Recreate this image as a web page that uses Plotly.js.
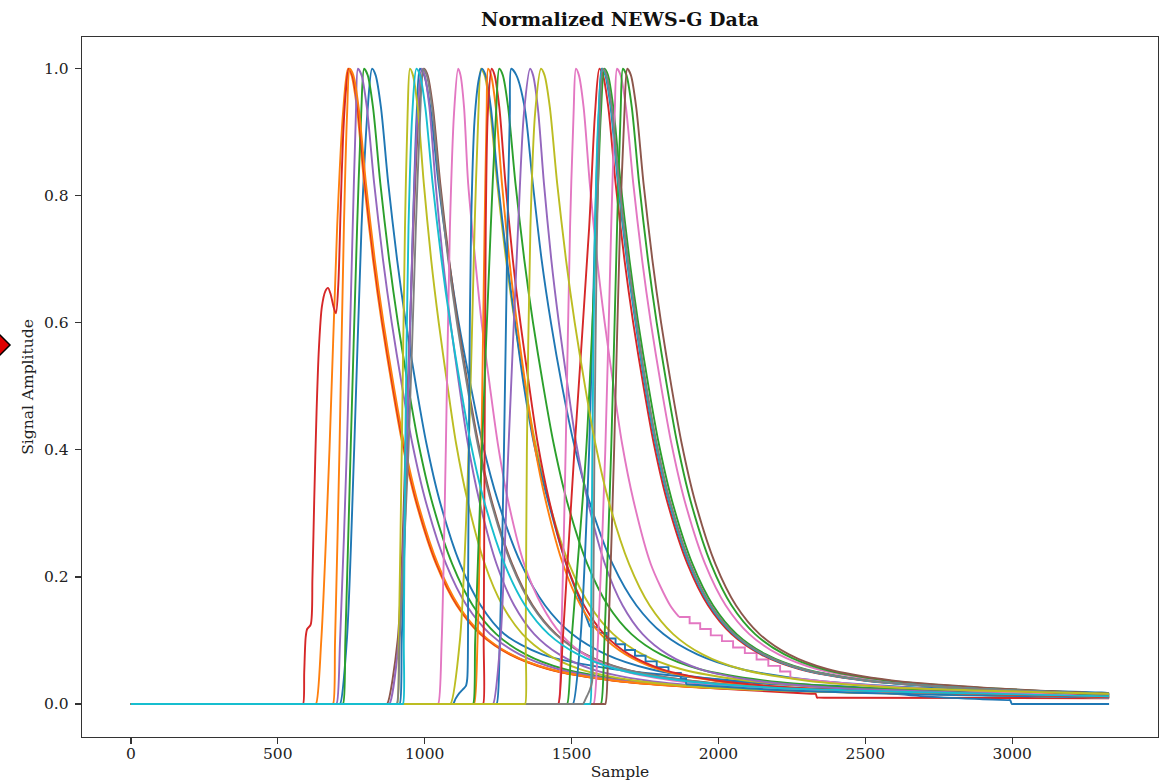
<!DOCTYPE html>
<html>
<head>
<meta charset="utf-8">
<script src="https://cdn.plot.ly/plotly-3.0.1.min.js"></script>
<style>html,body{margin:0;padding:0;background:#fff;}#chart{width:1170px;height:783px;}</style>
</head>
<body>
<div id="chart"></div>
<script>
// ---- Data ----
// Sample positions where each pulse crosses these amplitude levels
const riseLevels  = [0, 0.1, 0.4, 0.75, 0.93, 1.0];
const decayLevels = [0.99, 0.94, 0.82, 0.7, 0.6, 0.5, 0.41, 0.32, 0.22, 0.155, 0.11, 0.078, 0.055, 0.037, 0.026, 0.018];

const xTicks = [0, 500, 1000, 1500, 2000, 2500, 3000];
const yTicks = [0, 0.2, 0.4, 0.6, 0.8, 1.0];

// Pulses with an irregular leading edge: explicit [sample, amplitude] points
const redBumpHead = [[586,0],[590,0.05],[595,0.105],[600,0.118],[612,0.125],[618,0.2],[624,0.32],[632,0.46],[640,0.56],[650,0.625],[662,0.65],[671,0.655],[680,0.645],[690,0.625],[698,0.615],[706,0.66],[714,0.78],[722,0.89],[731,0.96],[742,1.0]];
const blueShelfHead = [[1097,0],[1105,0.008],[1118,0.017],[1130,0.023],[1140,0.028],[1145,0.04],[1148,0.2],[1152,0.5],[1158,0.75],[1170,0.92],[1185,0.985],[1195,1.0]];
const grayFootHead = [[1539,0],[1550,0.01],[1562,0.022],[1570,0.035],[1574,0.15],[1578,0.4],[1586,0.72],[1595,0.9],[1607,1.0]];

const pulseColor = [
  '#1f77b4','#ff7f0e','#2ca02c','#d62728','#9467bd','#ff7f0e',
  '#1f77b4','#8c564b','#9467bd','#bcbd22','#7f7f7f',
  '#e377c2','#bcbd22','#1f77b4','#ff7f0e','#d62728','#2ca02c','#1f77b4','#9467bd','#e377c2',
  '#d62728','#1f77b4','#2ca02c','#e377c2','#2ca02c','#8c564b','#17becf','#7f7f7f',
  '#bcbd22','#17becf'
];

const pulseRise = [
  [712,735,760,785,805,821],
  [630,648,676,702,722,739],
  [722,730,748,770,784,794],
  redBumpHead,
  [700,712,735,755,766,773],
  [688,695,710,725,736,745],
  [915,922,940,960,973,984],
  [872,908,935,962,980,998],
  [880,912,938,960,976,990],
  [906,912,922,933,942,950],
  [905,915,945,970,985,995],
  [1046,1058,1072,1086,1100,1114],
  [1088,1120,1150,1170,1183,1192],
  blueShelfHead,
  [1168,1180,1193,1204,1211,1216],
  [1199,1201,1204,1208,1215,1228],
  [1165,1172,1195,1225,1243,1254],
  [1245,1256,1270,1282,1290,1295],
  [1233,1258,1285,1318,1338,1359],
  [1455,1465,1480,1495,1507,1515],
  [1455,1470,1510,1560,1580,1595],
  [1505,1530,1560,1580,1593,1603],
  [1485,1500,1550,1585,1600,1612],
  [1575,1590,1615,1635,1647,1655],
  [1600,1612,1635,1655,1667,1675],
  [1615,1625,1645,1665,1680,1690],
  [1563,1566,1571,1580,1592,1605],
  grayFootHead,
  [1342,1344,1348,1360,1376,1396],
  [926,929,934,945,958,972]
];

const pulseDecay = [
  [833,851,876,906,936,971,1006,1051,1121,1191,1271,1400,1640,2050,2500,2950],
  [751,769,794,824,854,889,924,969,1039,1109,1189,1289,1419,1639,1939,2489],
  [806,824,849,879,909,944,979,1024,1094,1164,1244,1344,1474,1694,1994,2544],
  [754,772,797,827,857,892,927,972,1042,1112,1192,1292,1422,1642,1942],
  [785,803,828,858,888,923,958,1003,1073,1143,1223,1323,1453,1673,1973,2523],
  [757,775,800,830,860,895,930,975,1045,1115,1195,1295,1425,1645,1945,2495],
  [998,1019,1047,1082,1116,1157,1197,1249,1329,1410,1502,1617,1766,2019,2364],
  [1010,1028,1053,1083,1113,1148,1183,1228,1298,1368,1448,1548,1678,1898,2198,2748],
  [1000,1016,1037,1062,1088,1118,1147,1186,1245,1305,1373,1458,1568,1755,2010,2480],
  [960,976,997,1022,1048,1078,1107,1146,1205,1265,1333,1418,1528,1715,1970,2440],
  [1007,1025,1050,1080,1110,1145,1180,1225,1295,1365,1445,1545,1675,1895,2195,2745],
  [1122,1134,1148,1172,1194,1222,1249,1284,1339,1399,1464,1544,1654,1844,2114,2564],
  [1204,1222,1247,1277,1307,1342,1377,1422,1492,1562,1642,1742,1872,2092,2392,2942],
  [1207,1225,1250,1280,1308,1338,1372,1420,1482,1535],
  [1226,1242,1263,1288,1314,1344,1373,1412,1471,1531,1599,1684,1794,1981,2236,2706],
  [1238,1254,1275,1300,1326,1356,1385,1424,1483,1543,1611,1696,1806,1993,2248,2718],
  [1266,1284,1309,1339,1369,1404,1439,1484,1554,1624,1704,1804,1934,2154,2454,3004],
  [1312,1340,1368,1398,1430,1468,1508,1560,1640,1721,1813,1928,2077,2330,2675,3305],
  [1369,1385,1406,1431,1457,1487,1516,1555,1614,1674,1742,1827,1937,2124,2379,2849],
  [1525,1541,1562,1587,1613,1643,1672,1711,1770,1836],
  [1607,1625,1650,1680,1710,1745,1780,1825,1895,1965,2045,2145,2275,2495,2795],
  [1615,1633,1658,1688,1718,1751,1786,1831,1901,1971,2051,2151,2281,2501,2801],
  [1624,1642,1667,1697,1727,1762,1797,1842,1912,1982,2062,2162,2292,2512,2812],
  [1667,1685,1710,1740,1770,1805,1840,1885,1955,2025,2105,2205,2335,2555,2855],
  [1687,1705,1730,1760,1790,1825,1860,1905,1975,2045,2125,2225,2355,2575,2875],
  [1702,1720,1745,1775,1805,1840,1875,1920,1990,2060,2140,2240,2370,2590,2890],
  [1617,1635,1660,1690,1720,1753,1788,1833,1903,1973,2053,2153,2283,2503,2803],
  [1619,1637,1662,1692,1722,1755,1790,1835,1905,1975,2055,2155,2285,2505,2805],
  [1408,1426,1451,1481,1511,1546,1581,1626,1696,1766,1846,1946,2076,2296,2596,3146],
  [984,1002,1027,1057,1087,1122,1157,1202,1272,1342,1422,1522,1652,1872,2172,2722]
];

// Tail of each pulse after its decay crossings: [sample, amplitude] (null = break for a staircase)
const pulseTail = [
  [[3330,0.014]],
  [[3330,0.010]],
  [[3330,0.011]],
  [[2300,0.0165],[2326,0.016],[2331,0.016],[2336,0.010],[2341,0.010],[2360,0.0099],[3330,0.009]],
  [[3330,0.011]],
  [[3330,0.010]],
  [[2700,0.012],[2900,0.0075],[2985,0.006],[2993,0.006],[2999,0.0],[3006,0.0],[3030,0.0],[3330,0.0]],
  [[3330,0.012]],
  [[3330,0.010]],
  [[3330,0.010]],
  [[3330,0.012]],
  [[3330,0.010]],
  [[3330,0.013]],
  [[1563,0.121],[null,null],[1890,0.031],[2200,0.022],[2700,0.015],[3330,0.010]],
  [[3330,0.011]],
  [[3330,0.011]],
  [[3330,0.014]],
  [[3330,0.017]],
  [[3330,0.012]],
  [[1866,0.137],[null,null],[2245,0.041],[2500,0.030],[2900,0.020],[3330,0.014]],
  [[3330,0.014]],
  [[3330,0.015]],
  [[3330,0.015]],
  [[3330,0.016]],
  [[3330,0.016]],
  [[3330,0.016]],
  [[3330,0.015]],
  [[3330,0.015]],
  [[3330,0.016]],
  [[3330,0.012]]
];

// Quantised (staircase) parts of two low-amplitude tails
const blueStairsX = [1563,1592,1620,1650,1682,1716,1752,1790,1830,1872,1890];
const blueStairsY = [0.121,0.112,0.103,0.094,0.085,0.076,0.067,0.058,0.049,0.040,0.031];
const pinkStairsX = [1866,1902,1938,1974,2012,2050,2090,2130,2170,2210,2245];
const pinkStairsY = [0.137,0.127,0.118,0.108,0.099,0.089,0.080,0.070,0.060,0.051,0.041];
const stairsAfterPulse = [13, 19];
const stairsX = [blueStairsX, pinkStairsX];
const stairsY = [blueStairsY, pinkStairsY];

// ---- Build traces ----
const LW = 1.9;
const traces = [];
for (let i = 0; i < pulseColor.length; i++) {
  const r = pulseRise[i];
  const head = Array.isArray(r[0]) ? r : r.map((x, k) => [x, riseLevels[k]]);
  const tail = pulseTail[i];
  const cut = tail[0][0];
  const pts = [[0, 0], [head[0][0] - 6, 0]].concat(head);
  pulseDecay[i].forEach((x, k) => { if (x < cut) pts.push([x, decayLevels[k]]); });
  tail.forEach(p => pts.push(p));
  traces.push({
    type: 'scatter', mode: 'lines',
    x: pts.map(p => p[0]), y: pts.map(p => p[1]),
    line: {color: pulseColor[i], width: LW, shape: 'spline', smoothing: 0.8},
    hoverinfo: 'skip', showlegend: false
  });
  const s = stairsAfterPulse.indexOf(i);
  if (s >= 0) {
    traces.push({
      type: 'scatter', mode: 'lines',
      x: stairsX[s], y: stairsY[s],
      line: {color: pulseColor[i], width: LW, shape: 'hv'},
      hoverinfo: 'skip', showlegend: false
    });
  }
}

const FONT = '"DejaVu Serif", "Liberation Serif", serif';
const axisCommon = {
  showline: true, mirror: true, linecolor: '#333', linewidth: 1.3,
  ticks: 'outside', ticklen: 6, tickwidth: 1.2, tickcolor: '#333',
  showgrid: false, zeroline: false,
  tickfont: {family: FONT, size: 15.5, color: '#222'}
};

const layout = {
  width: 1170, height: 783,
  margin: {l: 82, r: 12, t: 37, b: 46, pad: 0},
  paper_bgcolor: '#fff', plot_bgcolor: '#fff',
  title: {
    text: 'Normalized NEWS-G Data',
    font: {family: FONT, size: 19, color: '#111', weight: 'bold'},
    x: 0.5, xref: 'paper', y: 1 - 19/783, yref: 'container', yanchor: 'middle'
  },
  xaxis: Object.assign({}, axisCommon, {
    range: [-166.5, 3496.5], tickvals: xTicks, ticktext: xTicks.map(String),
    ticklabelstandoff: -4,
    title: {text: 'Sample', font: {family: FONT, size: 15.5, color: '#222'}, standoff: 4}
  }),
  yaxis: Object.assign({}, axisCommon, {
    range: [-0.052, 1.05], tickvals: yTicks, tickformat: '.1f',
    ticklabelstandoff: 3,
    title: {text: 'Signal Amplitude', font: {family: FONT, size: 15.5, color: '#222'}, standoff: 6}
  }),
  shapes: [{
    type: 'path', xref: 'paper', yref: 'paper',
    path: 'M -0.0669,0.56 L -0.0771,0.5757 L -0.0874,0.56 L -0.0771,0.5443 Z',
    fillcolor: '#e00000', line: {color: '#000', width: 1.5}, layer: 'above'
  }]
};

Plotly.newPlot('chart', traces, layout, {displayModeBar: false, staticPlot: true});
</script>
</body>
</html>
